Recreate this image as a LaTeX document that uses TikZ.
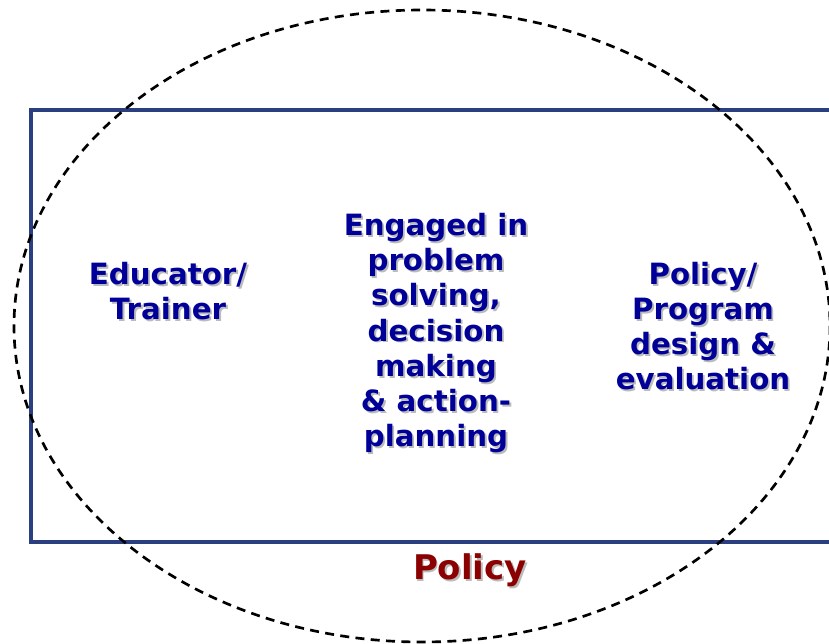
\documentclass[tikz,border=0pt]{standalone}
\usepackage{fontspec}
\setmainfont{DejaVu Sans}
\definecolor{frameblue}{HTML}{2B3F80}
\definecolor{textblue}{HTML}{000099}
\definecolor{policyred}{HTML}{8B0000}
\definecolor{shadowgray}{HTML}{BBBBBB}
\newcommand\shd[1]{\leavevmode\rlap{\hspace{1.6pt}\raisebox{-1.6pt}{\textcolor{shadowgray}{#1}}}#1}
\tikzset{
  lbl/.style={align=center, text=textblue, font=\fontsize{25}{30}\selectfont\bfseries},
  lblred/.style={align=center, text=policyred, font=\fontsize{29}{34}\selectfont\bfseries}
}
\begin{document}
\begin{tikzpicture}[x=0.03cm, y=-0.03cm]
                            \useasboundingbox (0,0) rectangle (829,644);
                            \clip (0,0) rectangle (829,644);

                            \draw[frameblue, line width=0.14cm] (31,110) rectangle (860,542);
                            \draw[black, line width=0.08cm, dash pattern=on 0.27cm off 0.19cm] (422,326) ellipse (408 and 316);

                            \node[lbl] (edu) at (168,292) {\shd{Educator/}\\\shd{Trainer}};
                            \node[lbl] (eng) at (436,334) {\shd{Engaged in}\\\shd{problem}\\\shd{solving,}\\\shd{decision}\\\shd{making}\\\shd{\& action-}\\\shd{planning}};
                            \node[lbl] (pol) at (703,327) {\shd{Policy/}\\\shd{Program}\\\shd{design \&}\\\shd{evaluation}};

                            \node[lblred] (policy) at (470,571) {\shd{Policy}};% outer label
                        \end{tikzpicture}
\end{document}
